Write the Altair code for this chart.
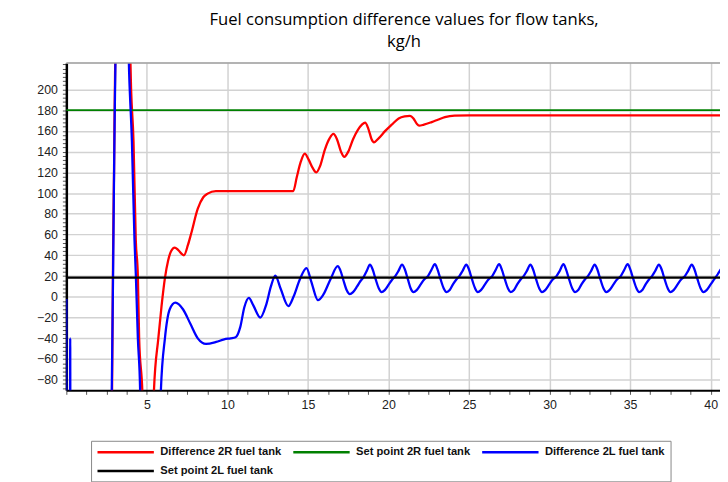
import altair as alt
import pandas as pd

# ---- data ----
series_names = ["Difference 2R fuel tank", "Set point 2R fuel tank",
                "Difference 2L fuel tank", "Set point 2L fuel tank"]
series_colors = ["#ff0000", "#008000", "#0000ff", "#000000"]

# Difference 2R fuel tank (time s, kg/h)
red_x = [2.70, 2.84, 2.90, 2.96, 3.04, 3.40, 3.96, 4.02, 4.17, 4.31, 4.44, 4.52, 4.72, 4.90,
         5.30, 5.44, 5.71, 5.91, 6.12, 6.32, 6.50, 6.73, 6.95, 7.30, 7.55, 7.75, 8.16, 8.50,
         8.77, 9.28, 10.00, 12.00, 14.09, 14.30, 14.55, 14.80, 15.05, 15.30, 15.52, 15.75,
         16.05, 16.35, 16.58, 16.80, 17.05, 17.26, 17.50, 17.80, 18.10, 18.35, 18.55, 18.75,
         18.95, 19.10, 19.40, 19.80, 20.20, 20.63, 21.00, 21.33, 21.55, 21.75, 21.90, 22.20,
         22.68, 23.10, 23.50, 24.10, 25.00, 30.00, 35.00, 41.00]
red_y = [-200, -88, 40, 120, 235, 300, 235, 200, 150, 55, 20, -40, -92, -200,
         -200, -90, -40, -9, 18, 35, 44, 47.5, 45, 40, 50, 61, 85, 96,
         99.5, 102, 102, 102, 102, 115, 130, 138, 132, 124, 120, 126,
         142, 153, 157, 152, 140, 135, 140, 152, 161, 166, 168, 162,
         152, 149, 153, 160, 166, 172, 174, 174.5, 172, 167, 165, 166,
         168.5, 171, 173.3, 174.8, 175, 175, 175, 175]

# Difference 2L fuel tank (time s, kg/h)
blue_x = [0.00, 0.02, 0.22, 0.24, 0.26, 2.70, 2.82, 2.90, 2.97, 3.10, 3.45, 3.82, 3.90,
          4.07, 4.23, 4.31, 4.44, 4.58, 4.70, 5.75, 5.87, 6.12, 6.42, 6.77, 7.24, 7.70,
          8.16, 8.67, 9.30, 9.80, 10.20, 10.51, 10.80, 11.05, 11.33, 11.60, 12.04, 12.40,
          12.70, 12.97, 13.30, 13.78, 14.10, 14.50, 14.91, 15.20, 15.62, 15.95, 16.40, 16.85,
          17.00, 17.20, 17.40, 17.60, 17.80, 18.05, 18.25, 18.45, 18.65, 18.85,
          19.00, 19.20, 19.40, 19.57, 19.77, 20.02, 20.22, 20.42, 20.62, 20.84,
          21.00, 21.20, 21.38, 21.55, 21.75, 22.00, 22.20, 22.45, 22.65, 22.88,
          23.03, 23.23, 23.43, 23.60, 23.80, 24.00, 24.20, 24.40, 24.60, 24.83,
          24.98, 25.18, 25.38, 25.54, 25.74, 25.99, 26.19, 26.44, 26.64, 26.87,
          27.02, 27.22, 27.42, 27.59, 27.79, 27.99, 28.19, 28.39, 28.59, 28.81,
          28.96, 29.16, 29.36, 29.53, 29.73, 29.98, 30.18, 30.43, 30.63, 30.86,
          31.01, 31.21, 31.41, 31.58, 31.78, 31.98, 32.18, 32.38, 32.58, 32.80,
          32.95, 33.15, 33.35, 33.52, 33.72, 33.97, 34.17, 34.42, 34.62, 34.85,
          35.00, 35.20, 35.40, 35.56, 35.76, 35.96, 36.16, 36.36, 36.56, 36.79,
          36.94, 37.14, 37.34, 37.50, 37.70, 37.95, 38.15, 38.40, 38.60, 38.83,
          38.98, 39.18, 39.38, 39.55, 39.75, 40.00, 40.20, 40.45, 40.65, 40.85]
blue_y = [-2, -250, -250, -40, -250, -250, -90, 20, 130, 260, 300, 260, 215,
          150, 55, 23, -40, -90, -250, -250, -90, -40, -12, -5.7, -12, -26,
          -40, -45.4, -43.5, -41, -40, -39, -29, -10, -1, -8, -20, -8,
          10, 20.5, 8, -9, 0, 17, 27.7, 15, -3.2, 2, 17, 29.5,
          26, 16, 6.5, 2.5, 4.5, 10, 15, 19, 25, 31,
          27, 17, 8, 4.5, 6.5, 12, 16.5, 20, 25, 31,
          27, 17, 8, 4.5, 6.5, 12, 16.5, 20, 25.5, 31.5,
          27, 17, 8, 4.5, 6.5, 12, 16.5, 20, 25, 31,
          27, 17, 8, 4.5, 6.5, 12, 16.5, 20, 25.5, 31.5,
          27, 17, 8, 4.5, 6.5, 12, 16.5, 20, 25, 31,
          27, 17, 8, 4.5, 6.5, 12, 16.5, 20, 25, 31.5,
          27, 17, 8, 4.5, 6.5, 12, 16.5, 20, 25, 31,
          27, 17, 8, 4.5, 6.5, 12, 16.5, 20, 25.5, 31.5,
          27, 17, 8, 4.5, 6.5, 12, 16.5, 20, 25, 31,
          27, 17, 8, 4.5, 6.5, 12, 16.5, 20, 25, 31,
          27, 17, 8, 4.5, 6.5, 12, 16.5, 22, 27, 31]

setpoint_2r = 180
setpoint_2l = 18.5

y_tick_values = list(range(-88, 225, 4))
x_tick_values = [0, 1.25, 2.5, 3.75, 5, 6.25, 7.5, 8.75, 10, 11.25, 12.5, 13.75, 15, 16.25,
                 17.5, 18.75, 20, 21.25, 22.5, 23.75, 25, 26.25, 27.5, 28.75, 30, 31.25,
                 32.5, 33.75, 35, 36.25, 37.5, 38.75, 40]

x_domain = [0, 40.58]
y_domain = [-90.2, 225.4]

# ---- tables ----
df_red = pd.DataFrame({"t": red_x, "v": red_y, "series": series_names[0]})
df_blue = pd.DataFrame({"t": blue_x, "v": blue_y, "series": series_names[2]})
df_sp_r = pd.DataFrame({"v": [setpoint_2r], "series": [series_names[1]]})
df_sp_l = pd.DataFrame({"v": [setpoint_2l], "series": [series_names[3]]})
df_frame = pd.DataFrame({"a": [0]})

label_font = "Liberation Sans"

x_scale = alt.Scale(domain=x_domain, nice=False, zero=False)
y_scale = alt.Scale(domain=y_domain, nice=False, zero=False)

x_axis = alt.Axis(
    title=None, values=x_tick_values,
    labelExpr="datum.value > 0 && datum.value % 5 === 0 ? format(datum.value, 'd') : ''",
    labelOverlap=False, labelFont=label_font, labelFontSize=12.5, labelColor="#222",
    labelPadding=4, tickSize=4, tickColor="#555", tickWidth=1,
    domainColor="#000", domainWidth=2,
    grid=True, gridColor="#d2d2d2", gridWidth=1.5,
    gridOpacity={"condition": {"test": "datum.value > 0 && datum.value % 5 === 0", "value": 1}, "value": 0},
)
y_axis = alt.Axis(
    title=None, values=y_tick_values,
    labelExpr="datum.value % 20 === 0 && datum.value <= 200 ? format(datum.value, 'd') : ''",
    labelOverlap=False, labelFont=label_font, labelFontSize=12.5, labelColor="#222",
    labelPadding=5, tickSize=4, tickColor="#555", tickWidth=1,
    domainColor="#000", domainWidth=2.5,
    grid=True, gridColor="#d2d2d2", gridWidth=1.5,
    gridOpacity={"condition": {"test": "datum.value % 20 === 0 && datum.value <= 200", "value": 1}, "value": 0},
)

X = alt.X("t:Q", scale=x_scale, axis=x_axis)
Y = alt.Y("v:Q", scale=y_scale, axis=y_axis)

# wide stroke legend symbol kept short in height (custom path scaled by sqrt(size)/2 = 5)
legend_symbol = "M-1,0H10.4"

color = alt.Color(
    "series:N",
    scale=alt.Scale(domain=series_names, range=series_colors),
    legend=alt.Legend(
        title=None, orient="none", legendX=25, legendY=382,
        direction="horizontal", columns=3,
        symbolType=legend_symbol, symbolSize=100, symbolStrokeWidth=2.5,
        labelFont=label_font, labelFontSize=11.3, labelFontWeight="bold", labelColor="#111",
        labelLimit=250, labelOffset=52, columnPadding=6, rowPadding=7,
        padding=5, strokeColor="#888", fillColor="#ffffff",
    ),
)

red = alt.Chart(df_red).mark_line(clip=True, strokeWidth=2.3, interpolate="monotone").encode(
    x=X, y=Y, color=color)
green = alt.Chart(df_sp_r).mark_rule(strokeWidth=2).encode(y=Y, color=color)
blue = alt.Chart(df_blue).mark_line(clip=True, strokeWidth=2.3, interpolate="monotone").encode(
    x=X, y=Y, color=color)
black = alt.Chart(df_sp_l).mark_rule(strokeWidth=2.2).encode(y=Y, color=color)
top_border = alt.Chart(df_frame).mark_rule(color="#9a9a9a", strokeWidth=1.5).encode(
    y=alt.value(0), x=alt.value(0), x2=alt.value(661))

chart = alt.layer(red, green, blue, black, top_border).properties(
    width=661, height=331,
    autosize="none",
    padding={"left": 59, "top": 53, "right": 0, "bottom": 90},
    title=alt.TitleParams(
        text=["Fuel consumption difference values for flow tanks,", "kg/h"],
        font="Open Sans", fontSize=16.8, fontWeight="normal", color="#000",
        anchor="middle", dx=11, offset=8, lineHeight=22,
    ),
).configure_view(strokeWidth=0)

chart.save("out.html", embed_options={"renderer": "svg", "actions": False})
